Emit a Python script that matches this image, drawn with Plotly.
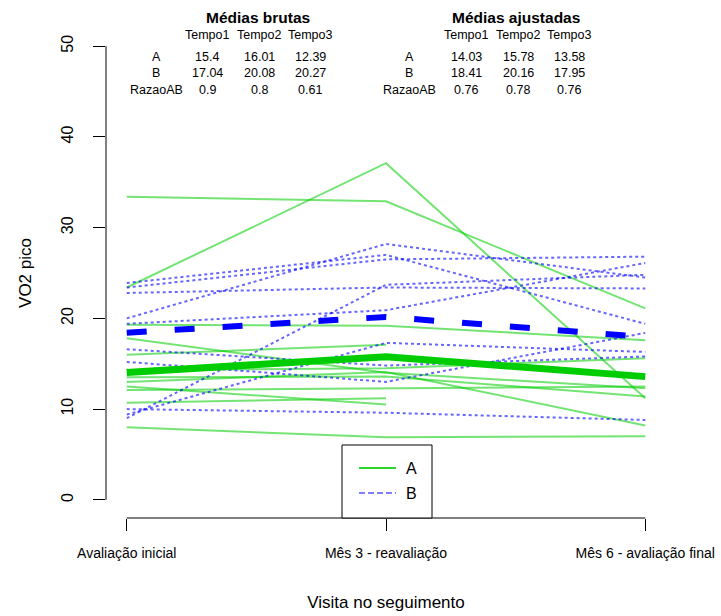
import plotly.graph_objects as go

# Follow-up visits (x positions) and their labels
visits = [1, 2, 3]
visit_labels = ["Avaliação inicial", "Mês 3 - reavaliação", "Mês 6 - avaliação final"]

# Individual VO2 pico trajectories, group A (None = missed visit)
grupo_a = [
    [33.4, 32.9, 21.1],
    [23.4, 37.1, 11.2],
    [19.3, 19.2, 17.6],
    [17.8, 14.0, 12.3],
    [16.0, 17.1, None],
    [14.3, 14.5, 15.6],
    [13.5, 13.6, 11.4],
    [13.0, 14.1, 8.2],
    [12.5, 10.5, None],
    [12.1, 12.3, 12.5],
    [10.7, 11.2, None],
    [8.0, 6.9, 7.0],
]

# Individual VO2 pico trajectories, group B
grupo_b = [
    [20.0, 28.2, 24.5],
    [23.9, 27.0, 19.4],
    [23.4, 26.5, 26.8],
    [22.8, 23.4, 23.3],
    [19.4, 20.9, 26.1],
    [9.0, 23.7, 24.8],
    [16.6, 14.8, 15.8],
    [15.2, 13.0, 18.4],
    [10.0, 9.6, 8.8],
    [9.4, 17.3, 16.3],
]

# Summary tables
tempos = ["Tempo1", "Tempo2", "Tempo3"]
linhas_tabela = ["A", "B", "RazaoAB"]
brutas_a = [15.4, 16.01, 12.39]
brutas_b = [17.04, 20.08, 20.27]
brutas_razao = [0.9, 0.8, 0.61]
ajust_a = [14.03, 15.78, 13.58]
ajust_b = [18.41, 20.16, 17.95]
ajust_razao = [0.76, 0.78, 0.76]

y_ticks = [0, 10, 20, 30, 40, 50]

W, H = 721, 616
ML, MR, MT, MB = 106, 55, 28, 98
FONT = "Liberation Sans, Arial, Helvetica, sans-serif"

GREEN = "rgb(0,205,0)"
GREEN_T = "rgba(0,205,0,0.55)"
BLUE = "rgb(0,0,255)"
BLUE_T = "rgba(0,0,255,0.6)"


def px_x(p):
    return (p - ML) / (W - ML - MR)


def px_y(p):
    return (H - MB - p) / (H - MT - MB)


def label(text, px, py, size, bold=False):
    return dict(text="<b>%s</b>" % text if bold else text,
                x=px_x(px), y=px_y(py), xref="paper", yref="paper",
                xanchor="center", yanchor="middle", showarrow=False,
                font=dict(size=size, color="black", family=FONT))


fig = go.Figure()

for serie in grupo_a:
    fig.add_trace(go.Scatter(x=visits, y=serie, mode="lines",
                             line=dict(color=GREEN_T, width=2),
                             connectgaps=False, showlegend=False, hoverinfo="skip"))

for serie in grupo_b:
    fig.add_trace(go.Scatter(x=visits, y=serie, mode="lines",
                             line=dict(color=BLUE_T, width=2, dash="dot"),
                             connectgaps=False, showlegend=False, hoverinfo="skip"))

# Adjusted group means
fig.add_trace(go.Scatter(x=visits, y=ajust_a, mode="lines",
                         line=dict(color=GREEN, width=7),
                         showlegend=False, hoverinfo="skip"))
fig.add_trace(go.Scatter(x=visits, y=ajust_b, mode="lines",
                         line=dict(color=BLUE, width=6, dash="20px,28px"),
                         showlegend=False, hoverinfo="skip"))

shapes = []
# Axis lines spanning first to last tick only
shapes.append(dict(type="line", xref="paper", yref="y", x0=0, x1=0,
                   y0=y_ticks[0], y1=y_ticks[-1], line=dict(color="black", width=1)))
shapes.append(dict(type="line", xref="x", yref="paper", x0=visits[0], x1=visits[-1],
                   y0=0, y1=0, line=dict(color="black", width=1)))

# Legend box
shapes.append(dict(type="rect", xref="paper", yref="paper", x0=px_x(342), x1=px_x(432),
                   y0=px_y(518), y1=px_y(445), line=dict(color="black", width=1),
                   fillcolor="white", layer="above"))
shapes.append(dict(type="line", xref="paper", yref="paper", x0=px_x(359), x1=px_x(396),
                   y0=px_y(468), y1=px_y(468), line=dict(color="rgb(40,215,40)", width=2),
                   layer="above"))
shapes.append(dict(type="line", xref="paper", yref="paper", x0=px_x(359), x1=px_x(396),
                   y0=px_y(493), y1=px_y(493),
                   line=dict(color=BLUE, width=1.2, dash="6px,3px"), layer="above"))

annotations = [label("A", 412, 468, 16), label("B", 412, 493, 16)]


def add_table(title, cx_title, cx_rowlab, cx_cols, a_vals, b_vals, r_vals):
    annotations.append(label(title, cx_title, 18, 15.5, bold=True))
    for t, cx in zip(tempos, cx_cols):
        annotations.append(label(t, cx, 35, 12.5))
    rows_y = [57, 73, 90]
    for lab, vals, ry in zip(linhas_tabela, [a_vals, b_vals, r_vals], rows_y):
        annotations.append(label(lab, cx_rowlab, ry, 12.5))
        for v, cx in zip(vals, cx_cols):
            annotations.append(label(str(v), cx, ry, 12.5))


add_table("Médias brutas", 258, 156, [207, 259, 310], brutas_a, brutas_b, brutas_razao)
add_table("Médias ajustadas", 516, 409, [466, 518, 569], ajust_a, ajust_b, ajust_razao)

fig.update_layout(
    width=W, height=H,
    margin=dict(l=ML, r=MR, t=MT, b=MB),
    paper_bgcolor="white", plot_bgcolor="white",
    font=dict(family=FONT, color="black"),
    showlegend=False,
    shapes=shapes,
    annotations=annotations,
    xaxis=dict(range=[0.92, 3.08], tickmode="array", tickvals=visits, ticktext=visit_labels,
               showgrid=False, zeroline=False, showline=False,
               ticks="outside", ticklen=12, tickcolor="black", tickwidth=1,
               ticklabelstandoff=10,
               tickfont=dict(size=14, family=FONT),
               title=dict(text="Visita no seguimento", font=dict(size=17, family=FONT),
                          standoff=36),
               automargin=False),
    yaxis=dict(range=[-2, 52], tickmode="array", tickvals=y_ticks,
               showgrid=False, zeroline=False, showline=False,
               ticks="outside", ticklen=12, tickcolor="black", tickwidth=1,
               tickangle=-90, ticklabelstandoff=14,
               tickfont=dict(size=16, family=FONT),
               title=dict(text="VO2 pico", font=dict(size=17, family=FONT), standoff=22),
               automargin=False),
)

fig.write_html("out.html")
